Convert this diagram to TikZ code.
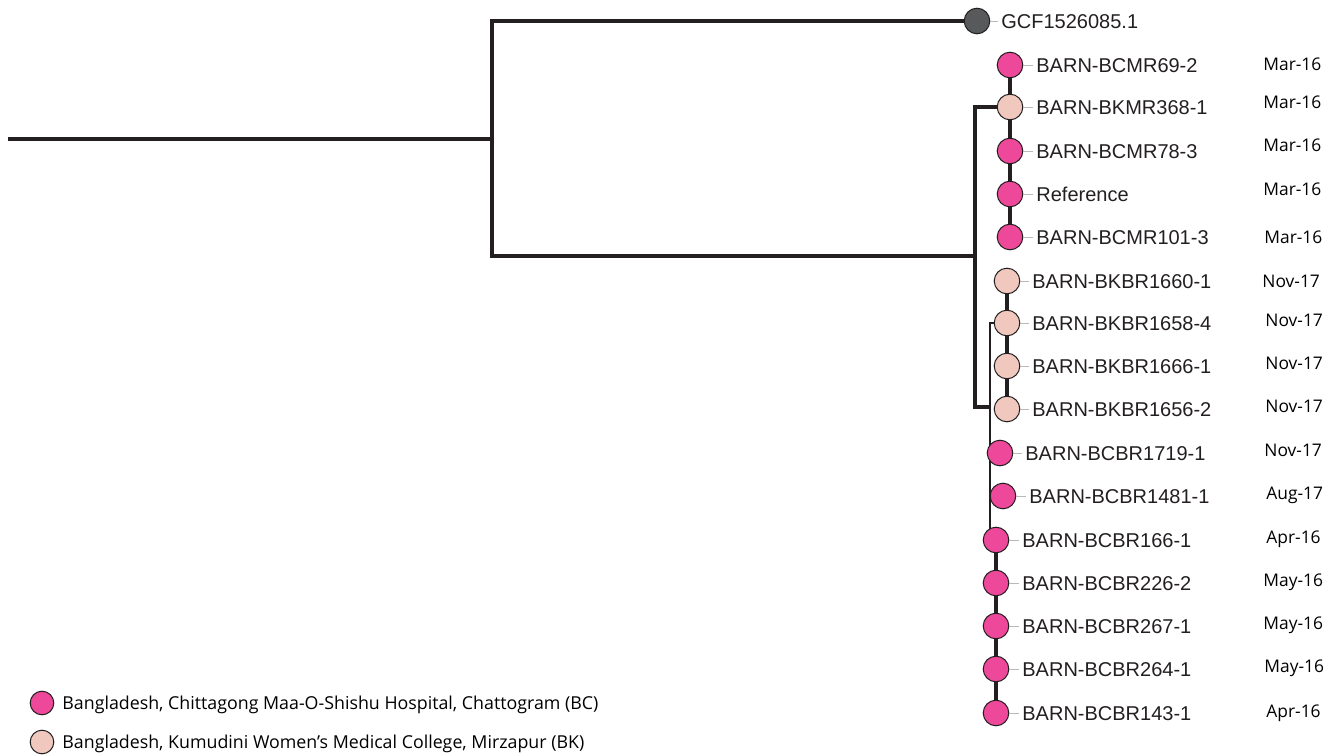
\documentclass[tikz,border=0pt]{standalone}
\usepackage{fontspec}
\setmainfont{Liberation Sans}
\newfontfamily\datefont{Open Sans}
\usetikzlibrary{backgrounds}
\definecolor{bcpink}{HTML}{ED4899}
\definecolor{bkpeach}{HTML}{F0C8BE}
\definecolor{outgray}{HTML}{58595B}
\definecolor{inkline}{HTML}{231F20}
\begin{document}
\begin{tikzpicture}[
x=0.5pt, y=-0.5pt,
leaf/.style={circle, draw=inkline, line width=0.5pt, minimum size=12.8pt, inner sep=0pt},
bc/.style={leaf, fill=bcpink},
bk/.style={leaf, fill=bkpeach},
outgroup/.style={leaf, fill=outgray},
leafname/.style={anchor=west, inner sep=0pt, text height=7.2pt, text depth=0pt, font=\fontsize{10}{12}\selectfont, text=inkline},
month/.style={anchor=west, inner sep=0pt, text height=6.3pt, text depth=0pt, font=\datefont\fontsize{8.7}{10}\selectfont},
keytext/.style={anchor=west, inner sep=0pt, text height=6.3pt, text depth=0pt, font=\datefont\fontsize{8.9}{10}\selectfont},
branch/.style={draw=inkline, line width=1.6pt},
thin branch/.style={draw=inkline, line width=1.1pt},
leaftick/.style={draw=gray!55, line width=0.4pt, shorten >=1.5pt},
]
\useasboundingbox (0,0) rectangle (1341,755);

% tips
\node[outgroup] (gcf) at (977,21) {};
\node[bc] (mr69) at (1010,65) {};
\node[bk] (kmr368) at (1010,107) {};
\node[bc] (mr78) at (1010,151) {};
\node[bc] (ref) at (1010,194) {};
\node[bc] (mr101) at (1010,237) {};
\node[bk] (br1660) at (1007,281) {};
\node[bk] (br1658) at (1007,323) {};
\node[bk] (br1666) at (1007,366) {};
\node[bk] (br1656) at (1007,409) {};
\node[bc] (br1719) at (1000,453) {};
\node[bc] (br1481) at (1003,496) {};
\node[bc] (br166) at (996,540) {};
\node[bc] (br226) at (996,583) {};
\node[bc] (br267) at (996,626) {};
\node[bc] (br264) at (996,669) {};
\node[bc] (br143) at (996,713) {};

% tip names
\node[leafname] (gcf-l) at (1001,21) {GCF1526085.1};
\node[leafname] (mr69-l) at (1036,65) {BARN-BCMR69-2};
\node[leafname] (kmr368-l) at (1036,107) {BARN-BKMR368-1};
\node[leafname] (mr78-l) at (1036,151) {BARN-BCMR78-3};
\node[leafname] (ref-l) at (1036,194) {Reference};
\node[leafname] (mr101-l) at (1036,237) {BARN-BCMR101-3};
\node[leafname] (br1660-l) at (1032,281) {BARN-BKBR1660-1};
\node[leafname] (br1658-l) at (1032,323) {BARN-BKBR1658-4};
\node[leafname] (br1666-l) at (1032,366) {BARN-BKBR1666-1};
\node[leafname] (br1656-l) at (1032,409) {BARN-BKBR1656-2};
\node[leafname] (br1719-l) at (1025,453) {BARN-BCBR1719-1};
\node[leafname] (br1481-l) at (1029,496) {BARN-BCBR1481-1};
\node[leafname] (br166-l) at (1022,540) {BARN-BCBR166-1};
\node[leafname] (br226-l) at (1022,583) {BARN-BCBR226-2};
\node[leafname] (br267-l) at (1022,626) {BARN-BCBR267-1};
\node[leafname] (br264-l) at (1022,669) {BARN-BCBR264-1};
\node[leafname] (br143-l) at (1022,713) {BARN-BCBR143-1};

\foreach \t in {gcf, mr69, kmr368, mr78, ref, mr101, br1660, br1658, br1666, br1656,
  br1719, br1481, br166, br226, br267, br264, br143}
  \draw[leaftick] (\t.east) -- (\t-l.west);

% dates
\node[month] (d1) at (1263,64) {Mar-16};
\node[month] (d2) at (1263,102) {Mar-16};
\node[month] (d3) at (1263,145) {Mar-16};
\node[month] (d4) at (1263,189) {Mar-16};
\node[month] (d5) at (1264,237) {Mar-16};
\node[month] (d6) at (1262,281) {Nov-17};
\node[month] (d7) at (1265,320) {Nov-17};
\node[month] (d8) at (1265,363) {Nov-17};
\node[month] (d9) at (1265,406) {Nov-17};
\node[month] (d10) at (1264,450) {Nov-17};
\node[month] (d11) at (1266,493) {Aug-17};
\node[month] (d12) at (1266,537) {Apr-16};
\node[month] (d13) at (1263,580) {May-16};
\node[month] (d14) at (1263,623) {May-16};
\node[month] (d15) at (1264,666) {May-16};
\node[month] (d16) at (1266,711) {Apr-16};

% tree
\begin{scope}[on background layer]
\coordinate (root) at (8,139);
\coordinate (n1) at (492,139);
\coordinate (n2) at (975,256);
\coordinate (n3) at (990,407);
\draw[branch] (root) -- (n1);
\draw[branch] (gcf.center) -| (n1);
\draw[branch] (n1) |- (n2);
\draw[branch] (kmr368.center) -| (n2);
\draw[branch] (n2) |- (n3);
\draw[thin branch] (br1658.center) -| (n3);
\draw[thin branch] (n3) |- (br166.center);
\draw[thin branch] (br1719.center) -- (n3 |- br1719);
\draw[thin branch] (br1481.center) -- (n3 |- br1481);
\draw[branch] (mr69.center) -- (mr101.center);
\draw[branch] (br1660.center) -- (br1656.center);
\draw[branch] (br166.center) -- (br143.center);
\end{scope}

% legend
\node[bc, minimum size=11.8pt] (key-bc) at (42,703) {};
\node[bk, minimum size=11.8pt] (key-bk) at (42,742) {};
\node[keytext] (key-bc-l) at (62,703) {Bangladesh, Chittagong Maa-O-Shishu Hospital, Chattogram (BC)};
\node[keytext] (key-bk-l) at (62,742) {Bangladesh, Kumudini Women’s Medical College, Mirzapur (BK)};
\end{tikzpicture}
\end{document}
